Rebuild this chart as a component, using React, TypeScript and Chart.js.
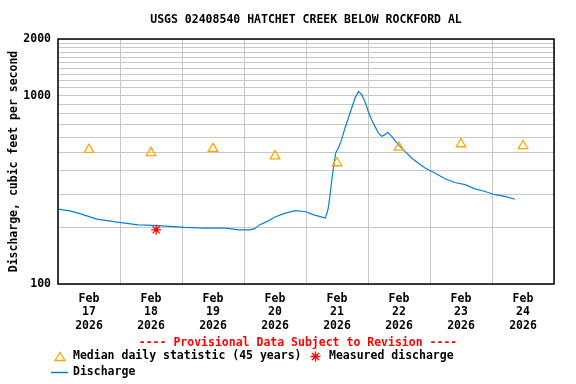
import React, { useEffect, useRef } from 'react';
import { Chart, registerables } from 'chart.js';

Chart.register(...registerables);

const TITLE = 'USGS 02408540 HATCHET CREEK BELOW ROCKFORD AL';
const Y_TITLE = 'Discharge, cubic feet per second';
const PROVISIONAL = '---- Provisional Data Subject to Revision ----';
const LEGEND_MEDIAN = 'Median daily statistic (45 years)';
const LEGEND_MEASURED = 'Measured discharge';
const LEGEND_DISCHARGE = 'Discharge';

// hours since Feb 17 2026 00:00
const dischargeHours = [
  0, 5, 10, 15, 23, 31, 39, 49, 57, 65, 70, 74, 76, 78, 81, 84, 88, 92, 96, 99,
  101.5, 103.5, 104.5, 105.25, 106, 106.6, 107.5, 108.5, 109.8, 111.1, 112.3,
  113.7, 115, 116.3, 117.6, 118.8, 120.1, 121.4, 122.7, 124, 125.3, 126.6,
  127.6, 129.2, 130.4, 132.4, 134.3, 136.9, 139.4, 142.1, 145.9, 149.8, 153.6,
  157.6, 161.4, 165.3, 169.2, 173, 176.9,
];
const dischargeCfs = [
  250, 244, 233, 221, 213, 206, 204, 200, 198, 198, 194, 194, 196, 206, 215,
  227, 238, 245, 242, 233, 228, 224, 248, 292, 358, 413, 496, 528, 584, 674,
  752, 860, 972, 1054, 1012, 933, 825, 746, 687, 634, 608, 621, 639, 608, 579,
  538, 506, 467, 439, 413, 389, 362, 346, 337, 320, 310, 298, 292, 282,
];

const medianHours = [12, 36, 60, 84, 108, 132, 156, 180];
const medianCfs = [517, 497, 523, 478, 439, 531, 554, 541];

const measuredHours = [38];
const measuredCfs = [194];

const monthLabel = 'Feb';
const yearLabel = '2026';
const dayLabels = ['17', '18', '19', '20', '21', '22', '23', '24'];

const yGridValues = [
  100, 200, 300, 400, 500, 600, 700, 800, 900, 1000, 1100, 1200, 1300, 1400,
  1500, 1600, 1700, 1800, 1900, 2000,
];
const yLabeledValues = [100, 1000, 2000];

const FONT_FAMILY = '"DejaVu Sans Mono", "Liberation Mono", monospace';
const FONT_SIZE = 11.5;
const FONT = `bold ${FONT_SIZE}px ${FONT_FAMILY}`;
const BLUE = '#0a7fd0';
const ORANGE = '#ffa500';
const RED = '#ff0000';
const GRID = '#c8c8c8';

const decorPlugin = {
  id: 'decor',
  afterDraw(chart: any) {
    const { ctx, chartArea } = chart;
    const { left, right, top, bottom } = chartArea;
    ctx.save();
    // frame
    ctx.strokeStyle = '#000';
    ctx.lineWidth = 1.5;
    ctx.strokeRect(left, top, right - left, bottom - top);

    ctx.font = FONT;
    ctx.fillStyle = '#000';
    ctx.textBaseline = 'middle';
    // title
    ctx.textAlign = 'center';
    ctx.fillText(TITLE, (left + right) / 2, 20);
    // y title
    ctx.save();
    ctx.translate(14, (top + bottom) / 2);
    ctx.rotate(-Math.PI / 2);
    ctx.fillText(Y_TITLE, 0, 0);
    ctx.restore();

    // provisional
    ctx.fillStyle = RED;
    ctx.fillText(PROVISIONAL, 298, 343);

    // legend
    ctx.textAlign = 'left';
    ctx.fillStyle = '#000';
    const row1 = 356.5;
    const row2 = 372.5;
    // triangle
    ctx.strokeStyle = ORANGE;
    ctx.lineWidth = 1.3;
    ctx.beginPath();
    ctx.moveTo(55, row1 + 4);
    ctx.lineTo(65, row1 + 4);
    ctx.lineTo(60, row1 - 4);
    ctx.closePath();
    ctx.stroke();
    ctx.fillText(LEGEND_MEDIAN, 73, row1);
    // asterisk
    ctx.strokeStyle = RED;
    ctx.lineWidth = 1.3;
    const ax = 315.5;
    ctx.beginPath();
    for (let i = 0; i < 4; i++) {
      const a = (i * Math.PI) / 4;
      ctx.moveTo(ax - 5 * Math.cos(a), row1 - 5 * Math.sin(a));
      ctx.lineTo(ax + 5 * Math.cos(a), row1 + 5 * Math.sin(a));
    }
    ctx.stroke();
    ctx.fillText(LEGEND_MEASURED, 329, row1);
    // discharge line
    ctx.strokeStyle = BLUE;
    ctx.lineWidth = 1.5;
    ctx.beginPath();
    ctx.moveTo(51, row2);
    ctx.lineTo(68, row2);
    ctx.stroke();
    ctx.fillText(LEGEND_DISCHARGE, 73, row2);
    ctx.restore();
  },
};

export default function App() {
  const canvasRef = useRef<HTMLCanvasElement | null>(null);

  useEffect(() => {
    const canvas = canvasRef.current;
    if (!canvas) return;
    const chart = new Chart(canvas, {
      type: 'line',
      data: {
        datasets: [
          {
            label: LEGEND_DISCHARGE,
            data: dischargeHours.map((h, i) => ({ x: h, y: dischargeCfs[i] })),
            borderColor: BLUE,
            borderWidth: 1.2,
            pointRadius: 0,
            tension: 0,
            fill: false,
            order: 3,
          },
          {
            label: LEGEND_MEDIAN,
            data: medianHours.map((h, i) => ({ x: h, y: medianCfs[i] })),
            showLine: false,
            pointStyle: 'triangle',
            pointRadius: 5.5,
            pointBorderColor: ORANGE,
            pointBackgroundColor: 'rgba(0,0,0,0)',
            pointBorderWidth: 1.3,
            borderColor: ORANGE,
            order: 2,
          },
          {
            label: LEGEND_MEASURED,
            data: measuredHours.map((h, i) => ({ x: h, y: measuredCfs[i] })),
            showLine: false,
            pointStyle: 'star',
            pointRadius: 5,
            pointBorderColor: RED,
            pointBackgroundColor: RED,
            pointBorderWidth: 1.3,
            borderColor: RED,
            order: 1,
          },
        ],
      },
      options: {
        animation: false,
        responsive: false,
        devicePixelRatio: 1,
        layout: { padding: { top: 39, right: 22, left: 0, bottom: 0 } },
        plugins: {
          legend: { display: false },
          title: { display: false },
          tooltip: { enabled: false },
        },
        scales: {
          x: {
            type: 'linear',
            min: 0,
            max: 192,
            afterFit: (s: any) => {
              s.height = 100;
            },
            afterBuildTicks: (s: any) => {
              const t = [];
              for (let v = 0; v <= 192; v += 12) t.push({ value: v });
              s.ticks = t;
            },
            grid: {
              drawTicks: false,
              color: (c: any) =>
                c.tick && c.tick.value % 24 === 0 ? GRID : 'rgba(0,0,0,0)',
              lineWidth: 1,
            },
            border: { display: false },
            ticks: {
              autoSkip: false,
              maxRotation: 0,
              minRotation: 0,
              padding: 8,
              color: '#000',
              font: { family: FONT_FAMILY, size: FONT_SIZE, weight: 'bold', lineHeight: 1.17 },
              callback: (v: any) => {
                const n = Number(v);
                if (n % 24 === 12) {
                  const idx = Math.floor(n / 24);
                  return [monthLabel, dayLabels[idx], yearLabel];
                }
                return '';
              },
            },
          },
          y: {
            type: 'logarithmic',
            min: 100,
            max: 2000,
            afterFit: (s: any) => {
              s.width = 58;
            },
            afterBuildTicks: (s: any) => {
              s.ticks = yGridValues.map((v) => ({ value: v }));
            },
            grid: {
              drawTicks: false,
              color: GRID,
              lineWidth: 1,
            },
            border: { display: false },
            ticks: {
              autoSkip: false,
              padding: 7,
              color: '#000',
              font: { family: FONT_FAMILY, size: FONT_SIZE, weight: 'bold' },
              callback: (v: any) => {
                const n = Number(v);
                return yLabeledValues.includes(n) ? String(n) : '';
              },
            },
          },
        },
      },
      plugins: [decorPlugin],
    } as any);
    return () => chart.destroy();
  }, []);

  return (
    <div style={{ position: 'fixed', left: 0, top: 0, width: 576, height: 384, background: '#fff' }}>
      <canvas ref={canvasRef} width={576} height={384} style={{ width: 576, height: 384, display: 'block' }} />
    </div>
  );
}
